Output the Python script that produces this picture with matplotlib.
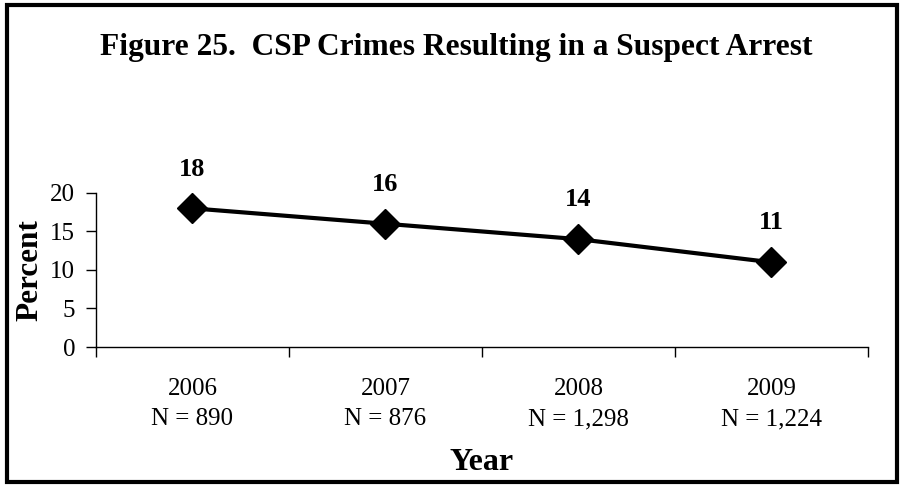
import matplotlib.pyplot as plt
from matplotlib.patches import Rectangle

years = ["2006", "2007", "2008", "2009"]
counts = ["N = 890", "N = 876", "N = 1,298", "N = 1,224"]
percent = [18, 16, 14, 11]
y_ticks = [0, 5, 10, 15, 20]


def main() -> None:
    plt.rcParams["font.family"] = ["Liberation Serif", "DejaVu Serif"]
    fig = plt.figure(figsize=(9.02, 4.86), dpi=100)
    ax = fig.add_axes([0.1064, 0.286, 0.8559, 0.317])

    x = list(range(len(years)))
    ax.plot(x, percent, color="black", linewidth=3, marker="D", markersize=15,
            markerfacecolor="black", markeredgecolor="black")
    for xi, val in zip(x, percent):
        ax.annotate(str(val), (xi, val), xytext=(0, 20), textcoords="offset points",
                    ha="center", va="bottom", fontsize=19, fontweight="bold")

    ax.set_xlim(-0.5, len(years) - 0.5)
    ax.set_ylim(0, 20)
    ax.set_yticks(y_ticks)
    ax.tick_params(axis="y", labelsize=18, length=7, width=1, direction="out", pad=8)
    # category ticks sit between the categories, labels at centres
    ax.set_xticks([i - 0.5 for i in range(len(years) + 1)])
    ax.set_xticklabels([])
    ax.set_xticks(x, minor=True)
    ax.set_xticklabels([f"{y}\n{n}" for y, n in zip(years, counts)], minor=True)
    ax.tick_params(axis="x", which="major", length=7, width=1, direction="out")
    ax.tick_params(axis="x", which="minor", length=0, labelsize=18, pad=22)
    for lab in ax.get_xticklabels(minor=True):
        lab.set_linespacing(1.5)

    for side in ("top", "right"):
        ax.spines[side].set_visible(False)
    ax.spines["left"].set_linewidth(1)
    ax.spines["bottom"].set_linewidth(1)

    ax.set_ylabel("Percent", fontsize=22.5, fontweight="bold")
    ax.yaxis.label.set_va("center")
    ax.yaxis.set_label_coords(-0.0855, 0.5)
    ax.set_xlabel("Year", fontsize=23, fontweight="bold")
    ax.xaxis.label.set_va("baseline")
    ax.xaxis.set_label_coords(0.5, -0.80)

    fig.text(0.5055, 1 - 55 / 486, "Figure 25.  CSP Crimes Resulting in a Suspect Arrest",
             ha="center", va="baseline", fontsize=22.6, fontweight="bold")

    fig.patches.append(Rectangle((0.0075, 0.009), 0.987, 0.98, transform=fig.transFigure,
                                 fill=False, edgecolor="black", linewidth=3))

    fig.savefig("out.png", dpi=100)


if __name__ == "__main__":
    main()
